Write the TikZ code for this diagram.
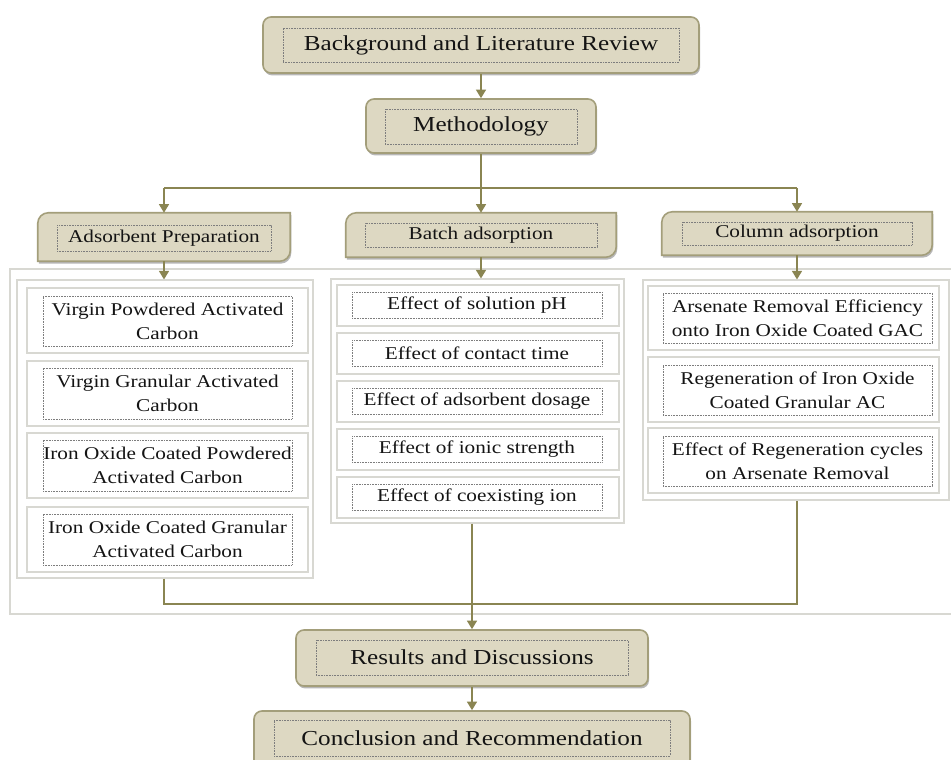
\documentclass[tikz,border=0pt]{standalone}
\usepackage{fontspec}
\setmainfont{Liberation Serif}[FakeStretch=1.18]
\usetikzlibrary{fit,shadows,arrows.meta}
\definecolor{tanfill}{RGB}{221,216,194}
\definecolor{tanedge}{RGB}{163,158,122}
\definecolor{olive}{RGB}{138,133,82}
\definecolor{dotgray}{RGB}{125,125,125}
\definecolor{panelgray}{RGB}{216,216,210}
\definecolor{txt}{RGB}{20,20,20}
\tikzset{
  bigtext/.style={font=\fontsize{16}{19}\selectfont},
  smalltext/.style={font=\fontsize{13.5}{18}\selectfont},
  boxshadow/.style={drop shadow={shadow xshift=0.8pt, shadow yshift=-1.8pt, opacity=0.4, fill=black!70}},
  tanbox/.style={fill=tanfill, draw=tanedge, line width=1.2pt, rounded corners=6pt, inner sep=0pt, boxshadow},
  catbox/.style={inner sep=0pt, draw=none},
  catshape/.style={fill=tanfill, draw=tanedge, line width=1.2pt, boxshadow},
  dotbox/.style={draw=dotgray, line width=0.45pt, dash pattern=on 0.6pt off 0.6pt, inner sep=0pt},
  txtnode/.style={inner sep=0pt, text=txt, align=center, anchor=center},
  panel/.style={draw=panelgray, line width=0.8pt, fill=white, inner sep=0pt},
  itembox/.style={draw=panelgray, line width=0.8pt, fill=white, inner sep=0pt},
  conn/.style={draw=olive, line width=1.3pt},
  arrow/.style={conn, -{Triangle[width=7.5pt,length=6.5pt]}, olive},
}
\newcommand\drawcat[1]{%
  \path[catshape] (#1.south west) -- ([yshift=-8pt]#1.north west)
    arc[start angle=180,end angle=90,radius=8pt] -- (#1.north east)
    -- ([yshift=8pt]#1.south east)
    arc[start angle=0,end angle=-90,radius=8pt] -- cycle;}
% #1 name, #2 corner a, #3 corner b, #4 style, #5 text
\newcommand\dottext[5]{%
  \node[dotbox, fit={#2 #3}] (#1) {};
  \node[txtnode, #4] (#1t) at (#1.center) {#5};}
\begin{document}
\begin{tikzpicture}[x=0.75pt,y=-0.75pt]
\useasboundingbox (0,0) rectangle (951,760);
\clip (0,0) rectangle (951,760);
\fill[white] (0,0) rectangle (951,760);

% frame and panels
\node[panel, fit={(10,269) (960,614)}] (frame) {};
\node[panel, fit={(17,280) (313,578)}] (lp) {};
\node[panel, fit={(331,279) (624,523)}] (mp) {};
\node[panel, fit={(643,280) (949,500)}] (rp) {};

% top boxes
\node[tanbox, fit={(263,17) (699,73)}] (bg) {};
\dottext{bgi}{(283,28)}{(679,62)}{bigtext}{Background and Literature Review}
\node[tanbox, fit={(366,99) (596,153)}] (meth) {};
\dottext{methi}{(385,109)}{(577,144)}{bigtext}{Methodology}

% category boxes
\node[catbox, fit={(38,213) (290,261)}] (ap) {};
\drawcat{ap}
\dottext{api}{(57,225)}{(271,251)}{smalltext}{Adsorbent Preparation}
\node[catbox, fit={(346,213) (616,257)}] (ba) {};
\drawcat{ba}
\dottext{bai}{(365,223)}{(597,247)}{smalltext}{Batch adsorption}
\node[catbox, fit={(662,212) (932,255)}] (ca) {};
\drawcat{ca}
\dottext{cai}{(682,222)}{(912,245)}{smalltext}{Column adsorption}

% left items
\node[itembox, fit={(27,288) (308,353)}] (l1o) {};
\dottext{l1}{(43,296)}{(292,346)}{smalltext}{Virgin Powdered Activated\\Carbon}
\node[itembox, fit={(27,361) (308,426)}] (l2o) {};
\dottext{l2}{(43,368)}{(292,419)}{smalltext}{Virgin Granular Activated\\Carbon}
\node[itembox, fit={(27,433) (308,498)}] (l3o) {};
\dottext{l3}{(43,440)}{(292,491)}{smalltext}{Iron Oxide Coated Powdered\\Activated Carbon}
\node[itembox, fit={(27,507) (308,572)}] (l4o) {};
\dottext{l4}{(43,514)}{(292,565)}{smalltext}{Iron Oxide Coated Granular\\Activated Carbon}

% middle items
\node[itembox, fit={(337,285) (619,326)}] (m1o) {};
\dottext{m1}{(352,292)}{(602,318)}{smalltext}{Effect of solution pH}
\node[itembox, fit={(337,333) (619,374)}] (m2o) {};
\dottext{m2}{(352,340)}{(602,366)}{smalltext}{Effect of contact time}
\node[itembox, fit={(337,381) (619,422)}] (m3o) {};
\dottext{m3}{(352,388)}{(602,414)}{smalltext}{Effect of adsorbent dosage}
\node[itembox, fit={(337,429) (619,470)}] (m4o) {};
\dottext{m4}{(352,436)}{(602,462)}{smalltext}{Effect of ionic strength}
\node[itembox, fit={(337,477) (619,518)}] (m5o) {};
\dottext{m5}{(352,484)}{(602,510)}{smalltext}{Effect of coexisting ion}

% right items
\node[itembox, fit={(648,286) (939,350)}] (r1o) {};
\dottext{r1}{(663,293)}{(932,343)}{smalltext}{Arsenate Removal Efficiency\\onto Iron Oxide Coated GAC}
\node[itembox, fit={(648,357) (939,422)}] (r2o) {};
\dottext{r2}{(663,365)}{(932,415)}{smalltext}{Regeneration of Iron Oxide\\Coated Granular AC}
\node[itembox, fit={(648,428) (939,493)}] (r3o) {};
\dottext{r3}{(663,436)}{(932,486)}{smalltext}{Effect of Regeneration cycles\\on Arsenate Removal}

% bottom boxes
\node[tanbox, fit={(296,630) (648,686)}] (res) {};
\dottext{resi}{(316,640)}{(628,675)}{bigtext}{Results and Discussions}
\node[tanbox, fit={(254,711) (690,768)}] (con) {};
\dottext{coni}{(274,720)}{(670,756)}{bigtext}{Conclusion and Recommendation}

% connectors
\coordinate (split) at (481,188);
\coordinate (join) at (472,604);
\draw[arrow] (bg.south) -- (bg.south |- meth.north);
\draw[conn] (meth.south) -- (split);
\draw[conn] (ap.north |- split) -- (ca.north |- split);
\draw[arrow] (ap.north |- split) -- (ap.north);
\draw[arrow] (split) -- (split |- ba.north);
\draw[arrow] (ca.north |- split) -- (ca.north);
\draw[arrow] (ap.south) -- (ap.south |- lp.north);
\draw[arrow] (split |- ba.south) -- (split |- mp.north);
\draw[arrow] (ca.south) -- (ca.south |- rp.north);
\draw[conn] (lp.south -| ap.south) |- (join) -| (rp.south -| ca.south);
\draw[arrow] (mp.south -| join) -- (join |- res.north);
\draw[arrow] (res.south) -- (res.south |- con.north);
\end{tikzpicture}
\end{document}
